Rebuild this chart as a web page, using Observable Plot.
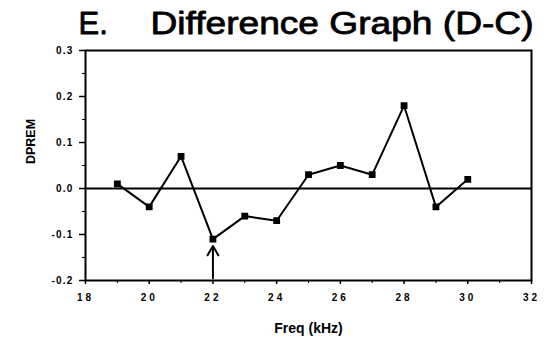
<!DOCTYPE html>
<html><head><meta charset="utf-8">
<script src="https://cdn.jsdelivr.net/npm/d3@7"></script>
<script src="https://cdn.jsdelivr.net/npm/@observablehq/plot@0.6"></script>
<style>
body{margin:0;background:#fff;}
svg{font-family:"Liberation Sans",Arial,sans-serif;}
g[aria-label="x-axis tick label"] text{letter-spacing:3px;}
g[aria-label="y-axis tick label"] text{letter-spacing:1.2px;}
</style></head><body><div id="chart"></div>
<script>
const freq = [19,20,21,22,23,24,25,26,27,28,29,30];
const dprem = [0.01,-0.04,0.07,-0.11,-0.06,-0.07,0.03,0.05,0.03,0.18,-0.04,0.02];
const xMajorTicks = [18,20,22,24,26,28,30,32];
const xMinorTicks = [19,21,23,25,27,29,31];
const yMajorTicks = [-0.2,-0.1,0,0.1,0.2,0.3];
const yTickLabels = ["-0.2","-0.1","0.0","0.1","0.2","0.3"];
const yMinorTicks = [-0.15,-0.05,0.05,0.15,0.25];
const arrowData = [{x:22, y1:-0.195, y2:-0.125}];
const titleLetter = "E.";
const titleMain = "Difference Graph (D-C)";
const xLabel = "Freq (kHz)";
const yLabel = "DPREM";

const data = freq.map((f,i)=>({freq:f, dprem:dprem[i]}));

const chart = Plot.plot({
  width:554, height:339,
  marginLeft:85, marginRight:23, marginTop:50, marginBottom:59,
  x:{domain:[18,32]},
  y:{domain:[-0.2,0.3]},
  marks:[
    Plot.axisX({ticks:xMajorTicks, tickSize:4, tickPadding:9, tickFormat:d=>String(d), fontSize:10, fontWeight:"bold", label:null, strokeWidth:1.5}),
    Plot.axisX({ticks:xMinorTicks, tickSize:3, tickFormat:()=>"" , label:null}),
    Plot.axisY({ticks:yMajorTicks, tickSize:6, tickPadding:6, tickFormat:(d)=>yTickLabels[yMajorTicks.findIndex(v=>Math.abs(v-d)<1e-9)], fontSize:10, fontWeight:"bold", label:null, strokeWidth:1.5}),
    Plot.axisY({ticks:yMinorTicks, tickSize:3, tickFormat:()=>"", label:null}),
    Plot.frame({strokeWidth:2}),
    Plot.ruleY([0], {strokeWidth:2}),
    Plot.line(data, {x:"freq", y:"dprem", strokeWidth:2, stroke:"black"}),
    Plot.dot(data, {x:"freq", y:"dprem", symbol:"square", r:3, fill:"black", stroke:"black"}),
    Plot.arrow(arrowData, {x1:"x", x2:"x", y1:"y1", y2:"y2", strokeWidth:2, headLength:9, stroke:"black"}),
    Plot.text([titleLetter], {frameAnchor:"top-left", textAnchor:"start", lineAnchor:"bottom", dx:-7, dy:-17, fontSize:31, fill:"black", stroke:"black", strokeWidth:0.8}),
    Plot.text([titleMain], {frameAnchor:"top-left", textAnchor:"start", lineAnchor:"bottom", dx:65, dy:-17, fontSize:31, fill:"black", stroke:"black", strokeWidth:0.8}),
    Plot.text([xLabel], {frameAnchor:"bottom", lineAnchor:"bottom", dy:52, fontSize:14, fontWeight:"bold", fill:"black"}),
    Plot.text([yLabel], {frameAnchor:"left", textAnchor:"middle", rotate:-90, dx:-55, dy:-24, fontSize:12.5, fontWeight:"bold", fill:"black"})
  ]
});
d3.select(chart).selectAll("text").filter(function(){return this.textContent===titleMain;})
  .attr("textLength",383).attr("lengthAdjust","spacingAndGlyphs");
document.getElementById("chart").appendChild(chart);
</script></body></html>
